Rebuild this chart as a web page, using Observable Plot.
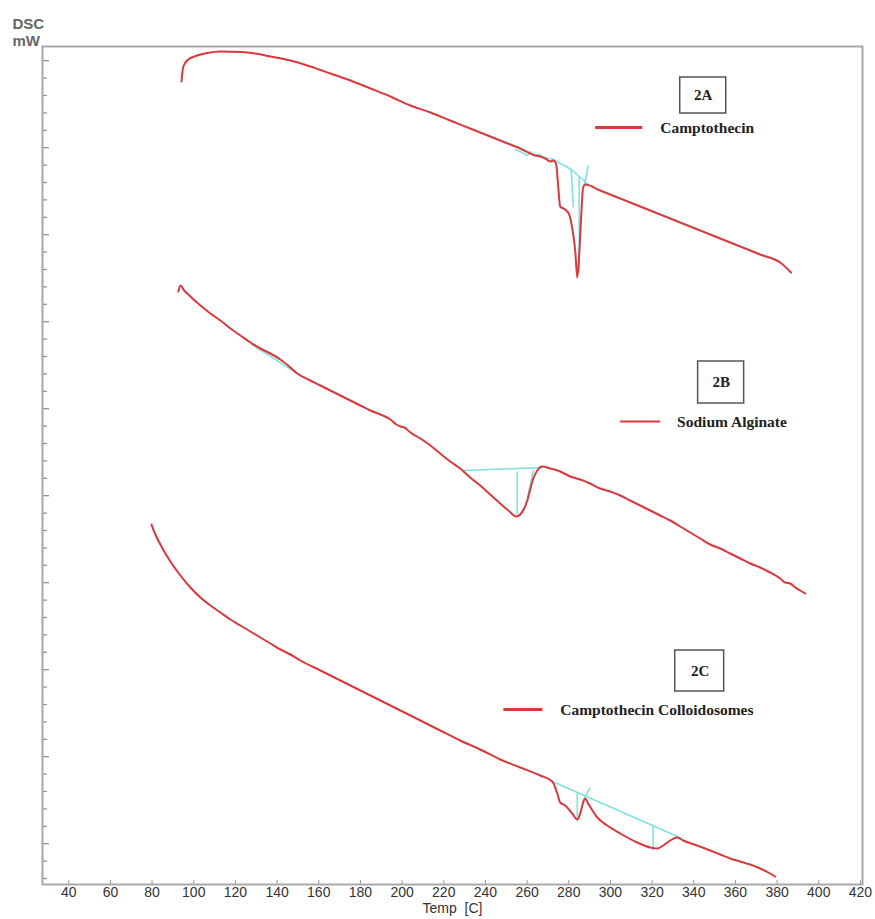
<!DOCTYPE html>
<html>
<head>
<meta charset="utf-8">
<script src="https://cdn.jsdelivr.net/npm/d3@7"></script>
<script src="https://cdn.jsdelivr.net/npm/@observablehq/plot@0.6"></script>
<style>
  html, body { margin: 0; padding: 0; background: #fff; }
  #chart { width: 875px; height: 919px; }
</style>
</head>
<body>
<div id="chart"></div>
<script>
// DSC thermograms: temperature (°C) vs heat flow (mW, curves offset vertically)
const sampleTags = ["2A", "2B", "2C"];
const sampleNames = ["Camptothecin", "Sodium Alginate", "Camptothecin Colloidosomes"];

const tempA = [94.1, 95.0, 97.4, 101.7, 106.5, 112.8, 122.4, 129.6, 136.8, 146.4, 156.0, 165.6, 175.2, 184.8, 194.4, 204.0, 213.6, 223.1, 232.7, 242.3, 251.9, 256.7, 261.5, 263.9, 266.3, 268.7, 271.1, 272.6, 274.0, 274.9, 275.9, 278.3, 280.2, 281.7, 283.1, 284.1, 285.0, 286.0, 286.9, 287.9, 295.1, 304.7, 314.3, 323.9, 333.5, 343.1, 352.7, 362.3, 371.9, 381.5, 386.7];
const dscA = [80.3, 81.8, 82.5, 82.9, 83.15, 83.3, 83.25, 83.1, 82.8, 82.4, 81.8, 81.1, 80.4, 79.6, 78.8, 77.9, 77.2, 76.4, 75.6, 74.8, 74.0, 73.6, 73.1, 72.9, 72.8, 72.6, 72.3, 72.4, 72.0, 69.9, 67.8, 67.5, 67.0, 65.6, 63.4, 60.7, 62.9, 66.9, 69.7, 70.0, 69.4, 68.6, 67.8, 67.0, 66.2, 65.4, 64.6, 63.8, 63.0, 62.2, 61.2];

const tempB = [92.6, 93.6, 95.4, 98.4, 103.2, 108.0, 112.8, 117.6, 122.4, 127.2, 132.0, 136.8, 141.6, 146.4, 149.7, 156.0, 160.8, 165.6, 170.4, 175.2, 180.0, 184.8, 189.6, 194.4, 197.2, 199.2, 201.1, 204.0, 208.8, 213.6, 218.3, 223.1, 227.9, 232.7, 237.5, 242.3, 247.1, 251.0, 254.8, 256.7, 258.6, 260.1, 261.5, 263.0, 264.9, 267.3, 271.1, 275.9, 280.7, 285.5, 290.3, 295.1, 299.9, 304.7, 309.5, 314.3, 319.1, 323.9, 328.7, 333.5, 338.3, 343.1, 347.9, 352.7, 357.5, 362.3, 367.1, 371.9, 376.7, 381.5, 383.9, 386.3, 388.7, 391.1, 393.5];
const dscB = [59.3, 59.9, 59.4, 58.8, 57.9, 57.1, 56.4, 55.6, 54.9, 54.2, 53.6, 53.1, 52.5, 51.7, 51.1, 50.4, 49.9, 49.4, 48.9, 48.4, 47.9, 47.4, 47.0, 46.5, 46.0, 45.8, 45.7, 45.2, 44.6, 43.9, 43.1, 42.3, 41.6, 40.7, 39.9, 39.0, 38.1, 37.4, 36.8, 37.0, 37.6, 38.4, 39.5, 40.6, 41.4, 41.8, 41.6, 41.3, 40.8, 40.5, 40.1, 39.6, 39.3, 38.9, 38.4, 37.9, 37.4, 36.9, 36.4, 35.8, 35.2, 34.6, 34.0, 33.6, 33.1, 32.6, 32.1, 31.7, 31.2, 30.6, 30.2, 30.1, 29.7, 29.4, 29.1];

const tempC = [79.7, 81.6, 84.0, 86.4, 88.8, 93.6, 98.4, 103.2, 108.0, 112.8, 117.6, 122.4, 127.2, 132.0, 136.8, 141.6, 146.4, 151.2, 160.8, 170.4, 180.0, 189.6, 199.2, 208.8, 218.3, 227.9, 237.5, 247.1, 256.7, 266.3, 272.1, 274.5, 275.9, 278.3, 281.7, 284.1, 285.5, 286.9, 287.9, 289.3, 293.7, 298.5, 304.7, 312.9, 319.1, 322.4, 325.3, 328.7, 332.0, 334.9, 341.6, 347.9, 352.7, 357.5, 362.3, 367.1, 371.9, 376.7, 379.1];
const dscC = [36.0, 35.0, 34.0, 33.1, 32.3, 30.9, 29.7, 28.7, 27.9, 27.2, 26.5, 25.9, 25.3, 24.7, 24.1, 23.5, 23.0, 22.4, 21.4, 20.4, 19.4, 18.4, 17.4, 16.4, 15.4, 14.4, 13.5, 12.5, 11.7, 10.9, 10.3, 9.1, 8.2, 7.9, 7.1, 6.5, 7.1, 8.2, 8.6, 8.1, 6.7, 5.9, 5.1, 4.2, 3.7, 3.6, 3.9, 4.4, 4.7, 4.4, 3.9, 3.4, 3.0, 2.6, 2.3, 2.0, 1.6, 1.1, 0.8];

// Peak-analysis construction lines (baselines, tangents, peak drops)
const baselineA_T = [254.3, 257.7, 260.1, 261.5, 263.4, 265.8, 268.2, 270.6, 272.6, 275.9, 278.8, 281.7, 284.5, 287.4, 289.3];
const baselineA_mW = [73.5, 73.2, 72.9, 73.3, 72.9, 73.0, 72.7, 72.6, 72.5, 72.1, 71.8, 71.4, 70.9, 70.4, 70.0];
const constructionT1 = [287.4, 281.2, 285.0, 127.2, 229.4, 255.3, 263.0, 272.1, 286.5, 284.1, 320.5];
const constructionV1 = [69.8, 71.4, 70.8, 54.1, 41.4, 41.3, 41.4, 10.3, 8.2, 9.2, 5.8];
const constructionT2 = [289.3, 282.2, 285.0, 149.7, 267.8, 255.3, 260.1, 334.4, 290.3, 284.1, 320.5];
const constructionV2 = [71.9, 67.7, 61.2, 51.1, 41.7, 37.0, 38.6, 4.6, 9.7, 6.4, 3.4];

const xTicks = [40, 60, 80, 100, 120, 140, 160, 180, 200, 220, 240, 260, 280, 300, 320, 340, 360, 380, 400, 420];
const xLabel = "Temp  [C]";
const yLabelLines = ["DSC", "mW"];

// Build tidy tables for Plot
const curves = [
  ...tempA.map((t, i) => ({sample: sampleNames[0], t, v: dscA[i]})),
  ...tempB.map((t, i) => ({sample: sampleNames[1], t, v: dscB[i]})),
  ...tempC.map((t, i) => ({sample: sampleNames[2], t, v: dscC[i]}))
];
const baselineA = baselineA_T.map((t, i) => ({t, v: baselineA_mW[i]}));
const construction = constructionT1.map((t1, i) => ({
  t1, v1: constructionV1[i], t2: constructionT2[i], v2: constructionV2[i]
}));

// Placement of the sample tags and legend entries inside the plot area
const tagBox = [
  {x1: 333.5, x2: 355.6, y1: 77.1, y2: 80.7, cx: 344.5, cy: 78.9},
  {x1: 342.1, x2: 364.2, y1: 48.1, y2: 52.3, cx: 353.2, cy: 50.2},
  {x1: 331.1, x2: 354.6, y1: 19.3, y2: 23.4, cx: 343.1, cy: 21.3}
];
const legendPos = [
  {s1: 292.7, s2: 315.3, sy: 75.7, tx: 323.9, ty: 75.6, w: 3},
  {s1: 304.7, s2: 323.9, sy: 46.3, tx: 332.0, ty: 46.2, w: 2},
  {s1: 248.6, s2: 267.3, sy: 17.5, tx: 275.9, ty: 17.4, w: 3}
];
const tags = sampleTags.map((tag, i) => ({tag, ...tagBox[i]}));
const legend = sampleNames.map((name, i) => ({name, ...legendPos[i]}));

const xDomain = [27.4, 421];
const yDomain = [0, 83.8];
const yTicks = d3.range(0.6, 83.8, 1.74);
const pxPerDeg = 820 / (xDomain[1] - xDomain[0]);
const pxPerUnit = 838 / (yDomain[1] - yDomain[0]);

const red = "#d9383c";
const cyan = "#7fe2e2";
const axisGrey = "#a8a8a8";
const serif = "'Liberation Serif', 'Times New Roman', serif";

const chart = Plot.plot({
  width: 875,
  height: 919,
  marginLeft: 42,
  marginRight: 13,
  marginTop: 46,
  marginBottom: 35,
  style: {fontFamily: "'Liberation Sans', Arial, sans-serif", fontSize: "14px", color: "#333", background: "#fff"},
  x: {domain: xDomain, axis: null},
  y: {domain: yDomain, axis: null},
  marks: [
    // inward tick marks
    Plot.ruleY(yTicks, {
      y: d => d,
      x1: xDomain[0],
      x2: (d, i) => xDomain[0] + ((i % 5 === 2) ? 7 : 5) / pxPerDeg,
      stroke: "#8a8a8a",
      strokeWidth: 1.2
    }),
    Plot.ruleX(xTicks, {x: d => d, y1: 0, y2: 4 / pxPerUnit, stroke: "#999", strokeWidth: 1}),
    Plot.axisX(xTicks, {tickSize: 0, tickPadding: 3, label: null, fill: "#333", fontSize: 14}),
    Plot.frame({stroke: axisGrey, strokeWidth: 2}),
    // analysis construction lines
    Plot.line(baselineA, {x: "t", y: "v", stroke: cyan, strokeWidth: 1.6}),
    Plot.link(construction, {x1: "t1", y1: "v1", x2: "t2", y2: "v2", stroke: cyan, strokeWidth: 1.6}),
    // thermograms
    Plot.line(curves, {x: "t", y: "v", z: "sample", stroke: red, strokeWidth: 2, curve: "monotone-x"}),
    // sample tags and legend
    Plot.rect(tags, {x1: "x1", x2: "x2", y1: "y1", y2: "y2", fill: "none", stroke: "#555", strokeWidth: 1.5}),
    Plot.text(tags, {x: "cx", y: "cy", text: "tag", fontFamily: serif, fontWeight: "bold", fontSize: 15, fill: "#222"}),
    Plot.link(legend, {x1: "s1", x2: "s2", y1: "sy", y2: "sy", stroke: red, strokeWidth: "w"}),
    Plot.text(legend, {x: "tx", y: "ty", text: "name", textAnchor: "start", fontFamily: serif, fontWeight: "bold", fontSize: 15.5, fill: "#222"}),
    // axis titles
    Plot.text([xLabel], {frameAnchor: "bottom", dy: 28, text: d => d, fontSize: 14, fill: "#333"}),
    Plot.text([yLabelLines[0]], {frameAnchor: "top-left", dx: -30, dy: -28, textAnchor: "start", text: d => d, fontSize: 15, fontWeight: "bold", fill: "#666"}),
    Plot.text([yLabelLines[1]], {frameAnchor: "top-left", dx: -30, dy: -11, textAnchor: "start", text: d => d, fontSize: 15, fontWeight: "bold", fill: "#666"})
  ]
});

document.getElementById("chart").appendChild(chart);
</script>
</body>
</html>
